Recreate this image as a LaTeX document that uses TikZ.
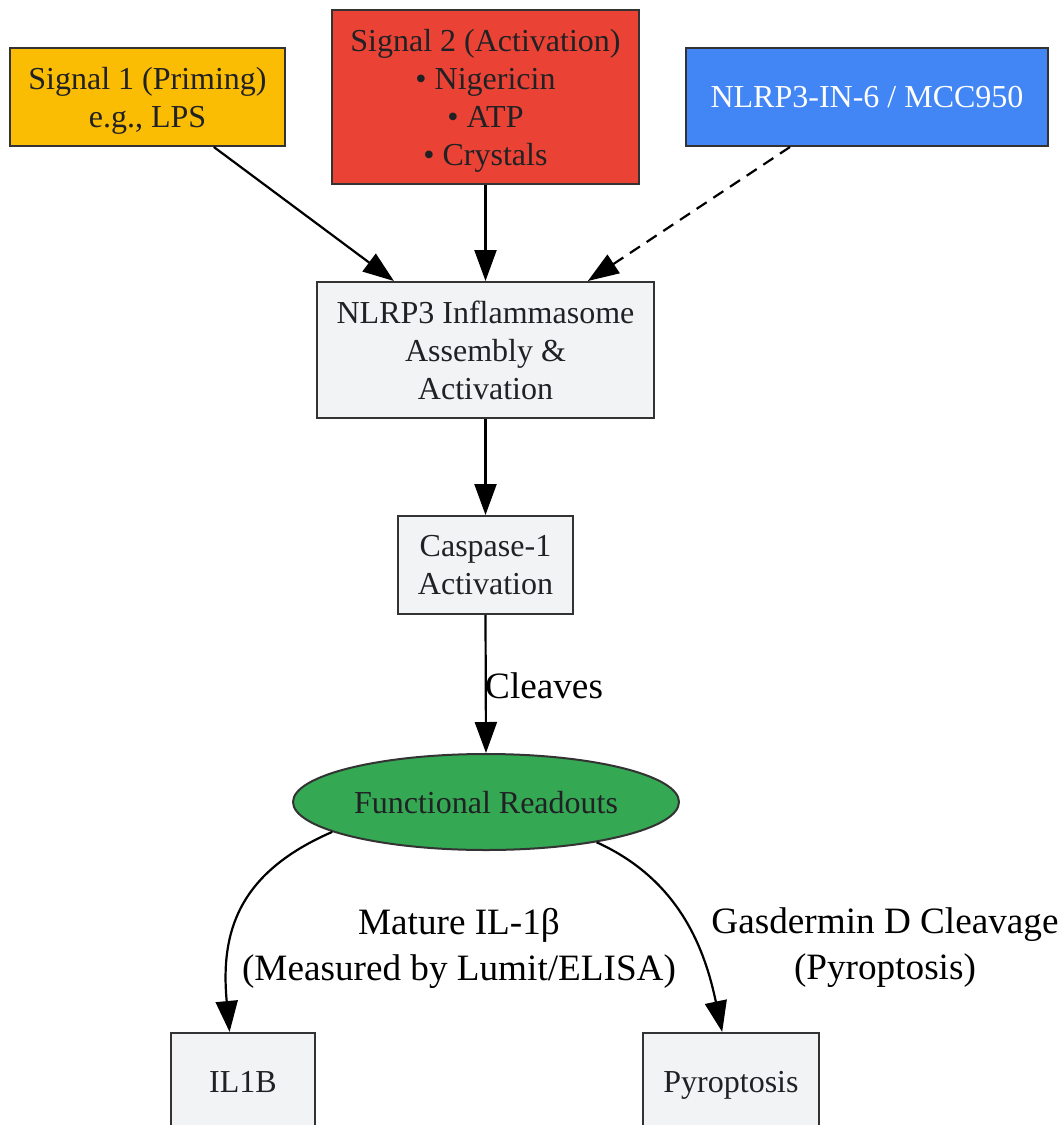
\documentclass[tikz,border=0pt]{standalone}
\usepackage{fontspec}
\setmainfont{Liberation Serif}
\usetikzlibrary{arrows.meta,shapes.geometric}
\definecolor{cyel}{HTML}{FBBC04}
\definecolor{cred}{HTML}{EA4335}
\definecolor{cblue}{HTML}{4285F4}
\definecolor{cgray}{HTML}{F1F3F4}
\definecolor{cgreen}{HTML}{34A853}
\definecolor{ctext}{HTML}{202124}
\definecolor{cborder}{HTML}{333333}
\tikzset{
  box/.style={draw=cborder, line width=2pt, rectangle, inner sep=0pt, align=center,
    text=ctext, font=\fontsize{32}{38}\selectfont, text depth=-3pt},
  oval/.style={draw=cborder, line width=2pt, ellipse, inner sep=0pt, align=center,
    text=ctext, font=\fontsize{32}{38}\selectfont, text depth=-3pt},
  conn/.style={draw=black, line width=2.2pt, -{Triangle[length=31pt,width=22pt]}},
  elabel/.style={font=\fontsize{37.2}{46}\selectfont, text=black, inner sep=0pt, align=center}
}
\begin{document}
\begin{tikzpicture}[x=1pt,y=-1pt]
\useasboundingbox (0,0) rectangle (1062,1125);
\node[box, fill=cyel, minimum width=275pt, minimum height=98pt] (s1) at (147.5,97) {Signal 1 (Priming)\\e.g., LPS};
\node[box, fill=cred, minimum width=307pt, minimum height=174pt] (s2) at (485.5,97) {Signal 2 (Activation)\\• Nigericin\\• ATP\\• Crystals};
\node[box, fill=cblue, text=white, minimum width=362pt, minimum height=98pt] (inh) at (867,97) {NLRP3-IN-6 / MCC950};
\node[box, fill=cgray, minimum width=337pt, minimum height=136pt] (nl) at (485.5,350) {NLRP3 Inflammasome\\Assembly \&\\Activation};
\node[box, fill=cgray, minimum width=175pt, minimum height=98pt] (cs) at (485.5,565) {Caspase-1\\Activation};
\node[oval, fill=cgreen, minimum width=386pt, minimum height=96pt] (fr) at (486,802) {Functional Readouts};
\node[box, fill=cgray, minimum width=144pt, minimum height=98pt] (il) at (243,1082) {IL1B};
\node[box, fill=cgray, minimum width=176pt, minimum height=98pt] (py) at (731,1082) {Pyroptosis};

\draw[conn] (s1.323) -- (nl.143);
\draw[conn] (s2.south) -- (nl.north);
\draw[conn, dash pattern=on 12pt off 8pt] (inh.213) -- (nl.34);
\draw[conn] (nl.south) -- (cs.north);
\draw[conn] (cs.south) -- (fr.north);
\draw[conn] (fr.191) .. controls (240,872) and (220,930) .. (il.105);
\draw[conn] (fr.340) .. controls (680,880) and (705,950) .. (py.100);

\node[elabel, anchor=west] (lc) at (485,686) {Cleaves};
\node[elabel] (lm) at (459,948) {Mature IL-1β\\(Measured by Lumit/ELISA)};
\node[elabel] (lg) at (885,948) {Gasdermin D Cleavage\\(Pyroptosis)};
\end{tikzpicture}
\end{document}
